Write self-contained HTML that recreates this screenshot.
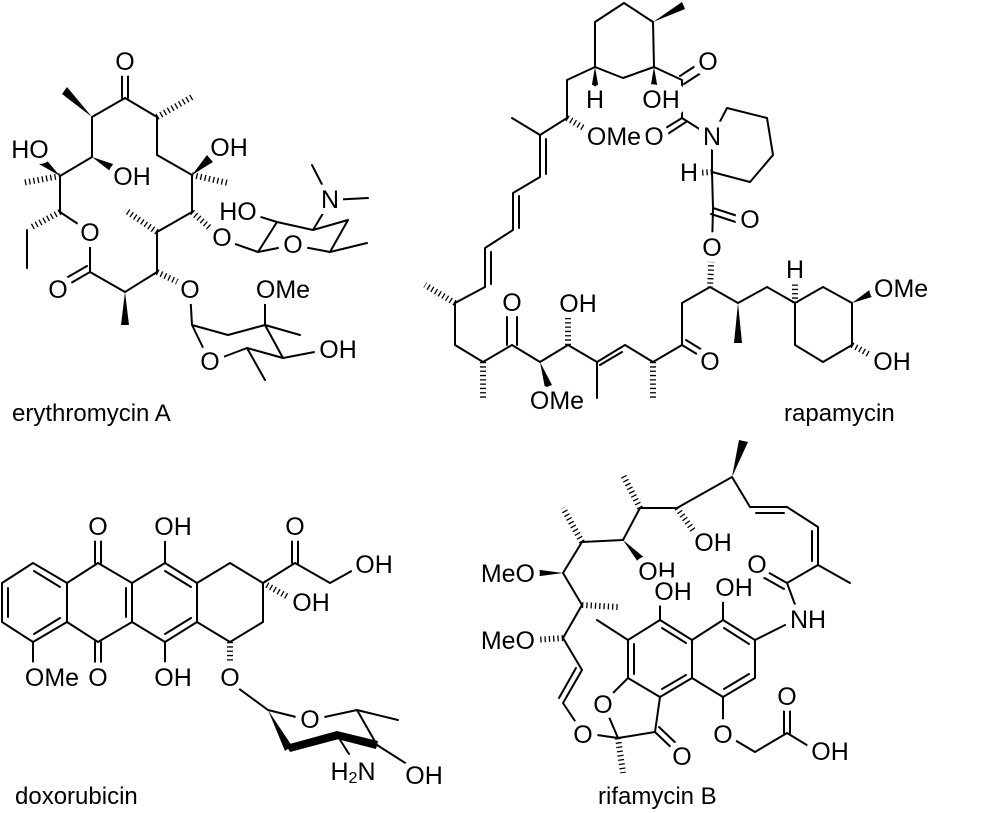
<!DOCTYPE html>
<html><head><meta charset="utf-8"><style>
html,body{margin:0;padding:0;background:#fff}
svg{display:block}
text{font-family:"Liberation Sans",Arial,sans-serif;font-size:25px;fill:#000;stroke:#fff;stroke-width:12px;paint-order:stroke;stroke-linejoin:round}
.l{text-anchor:middle;dominant-baseline:central}
.s{text-anchor:start;dominant-baseline:central}
.e{text-anchor:end;dominant-baseline:central}
.n{font-size:24px;stroke:none}
.ns{stroke:none}
.b{fill:none;stroke:#000;stroke-width:2;stroke-linejoin:round;stroke-linecap:round}
.h{fill:none;stroke:#000;stroke-width:6;stroke-dasharray:1.3 3}
.w{fill:#000}
</style></head><body>
<svg width="1000" height="813" viewBox="0 0 1000 813" xmlns="http://www.w3.org/2000/svg">
<!-- ERYTHROMYCIN -->
<path class="b" d="M125 98 L92 117 L92 157 L60 176 L60 212 L90 232 L90 272 L125 292 L157 272 L157 232 L192 212 L192 175 L157 155 L157 117 L125 98
M122 98 L122 72 M128 98 L128 72 M90 272 L64 287 M87 266 L61 281 M27 230 L27 268
M218 238 L258 252 L293 245 L330 252 L348 220 L313 230 L277 222 L258 252 M277 222 L248 213 M313 230 L328 205 M330 200 L312 165 M330 200 L368 198 M330 252 L367 243
M190 290 L192 325 L228 335 L265 325 L283 358 L247 348 L210 362 L192 325 M265 325 L265 298 M265 325 L300 335 M283 358 L325 350 M247 348 L265 380"/>
<polygon class="w" points="92,117 62,94 67,87"/>
<polygon class="w" points="92,157 113,164 110,171"/>
<polygon class="w" points="60,176 39,164 44,157"/>
<polygon class="w" points="192,175 207,155 213,162"/>
<polygon class="w" points="125,292 121,325 129,325"/>
<path class="h" d="M157 117 L192 97 M60 176 L22 183 M60 212 L30 228 M192 175 L228 183 M157 232 L125 210 M157 272 L188 287 M192 212 L218 235"/>
<text class="l" x="125" y="62">O</text>
<text class="l" x="30" y="150">HO</text>
<text class="l" x="132" y="177">OH</text>
<text class="l" x="229" y="148">OH</text>
<text class="l" x="90" y="233">O</text>
<text class="l" x="58" y="290">O</text>
<text class="l" x="222" y="238">O</text>
<text class="l" x="238" y="212">HO</text>
<text class="l" x="293" y="245">O</text>
<text class="l" x="330" y="200">N</text>
<text class="l" x="190" y="290">O</text>
<text class="l" x="283" y="290">OMe</text>
<text class="l" x="338" y="350">OH</text>
<text class="l" x="210" y="362">O</text>
<text class="n" x="12" y="421">erythromycin A</text>

<!-- RAPAMYCIN -->
<path class="b" d="M595 22 L624 3 L653 22 L654 67 L623 78 L595 67 Z
M654 67 L682 80 L682 118 L712 137 L727 108 L767 118 L773 155 L750 182 L712 172 L712 137
M684 84 L710 67 M680 76 L706 59 M682 118 L656 134 M686 122 L660 139
M712 172 L713 208 L712 248 M713 208 L750 220 M711 214 L748 226
M682 345 L710 362 M686 340 L712 356
M710 287 L682 303 L682 345 L653 362 L625 345 L597 362 L568 345 L540 362 L512 345 L483 362 L455 345 L455 303 L485 287 L485 248 L513 230 L513 193 L540 177 L540 135 L567 118 L567 80 L595 67
M540 135 L512 118 M622 352 L600 365 M507 345 L507 305 M517 345 L517 305
M491 284 L491 252 M519 228 L519 196 M546 174 L546 139
M710 287 L738 303 L767 287 L795 303 L823 287 L852 303 L852 345 L823 362 L795 345 L795 303
M597 362 L597 398"/>
<path class="h" d="M712 248 L710 287 M712 172 L697 173 M795 303 L795 282 M852 345 L874 357 M653 362 L653 398 M568 345 L568 318 M483 362 L483 398 M455 303 L425 285 M567 118 L592 133"/>
<polygon class="w" points="653,22 682,2 685,9"/>
<polygon class="w" points="654,67 650,90 658,90"/>
<polygon class="w" points="595,67 591,90 599,90"/>
<polygon class="w" points="738,303 734,343 742,343"/>
<polygon class="w" points="852,303 872,288 875,296"/>
<polygon class="w" points="540,362 545,388 552,385"/>
<text class="l" x="708" y="62">O</text>
<text class="l" x="661" y="100">OH</text>
<text class="l" x="595" y="100">H</text>
<text class="l" x="654" y="137">O</text>
<text class="l" x="712" y="137">N</text>
<text class="l" x="689" y="173">H</text>
<text class="l" x="750" y="220">O</text>
<text class="l" x="712" y="248">O</text>
<text class="l" x="710" y="362">O</text>
<text class="l" x="795" y="270">H</text>
<text class="s" x="874" y="289">OMe</text>
<text class="l" x="892" y="362">OH</text>
<text class="l" x="512" y="303">O</text>
<text class="l" x="578" y="304">OH</text>
<text class="l" x="557" y="401">OMe</text>
<text class="l" x="614" y="137">OMe</text>
<text class="n" x="784" y="421">rapamycin</text>

<!-- DOXORUBICIN -->
<path class="b" d="M2 583 L33 563 L67 583 L67 622 L33 642 L2 622 Z
M34 571 L60 587 M8 588 L8 617 M34 634 L60 618
M67 583 L98 563 L132 583 L132 622 L98 642 L67 622 M126 588 L126 617
M132 583 L165 563 L197 583 L197 622 L165 642 L132 622 M165 571 L191 587 M165 634 L191 618
M197 583 L230 563 L263 583 L263 622 L230 642 L197 622
M95 563 L95 538 M101 563 L101 538 M95 642 L95 668 M101 642 L101 668
M165 563 L165 540 M165 642 L165 667 M33 642 L33 666
M263 583 L295 563 L330 583 L357 568 M292 563 L292 538 M298 563 L298 538
M238 688 L268 710 L300 718 M320 718 L357 710 L398 720 M357 710 L377 745 L410 766 M337 735 L349 754"/>
<path class="h" d="M263 583 L290 598 M230 642 L230 667"/>
<polygon class="w" points="268,710 285,751 292,746"/>
<polygon class="w" points="286,745 337,731 339,739 290,752"/>
<polygon class="w" points="337,731 378,741 376,749 337,739"/>
<text class="l" x="98" y="527">O</text>
<text class="l" x="173" y="527">OH</text>
<text class="l" x="295" y="527">O</text>
<text class="l" x="374" y="565">OH</text>
<text class="l" x="311" y="603">OH</text>
<text class="l" x="52" y="678">OMe</text>
<text class="l" x="98" y="678">O</text>
<text class="l" x="173" y="678">OH</text>
<text class="l" x="230" y="678">O</text>
<text class="l" x="310" y="720">O</text>
<text class="l" x="424" y="776">OH</text>
<text class="l ns" x="353" y="772">H<tspan font-size="16" dy="6">2</tspan><tspan dy="-6">N</tspan></text>
<text class="n" x="15" y="804">doxorubicin</text>

<!-- RIFAMYCIN B -->
<path class="b" d="M732 477 L750 507 L787 507 L818 527 L818 565 L787 583 L797 610 M818 565 L850 583
M756 513 L784 513 M812 531 L812 561 M787 583 L764 570 M784 589 L761 576
M732 477 L677 508 L640 508 L623 540 L582 542 L563 573 L582 605 L563 638 L582 670 L563 703 L583 733 L618 738 L655 732 L660 697
M576 668 L559 698 M618 738 L603 703 L628 678 M655 732 L676 752 M659 727 L680 747
M628 640 L660 620 L692 640 L692 678 L660 697 L628 678 Z M634 644 L634 674 M662 628 L686 643 M662 689 L686 675
M692 640 L723 620 L755 640 L755 678 L723 697 L692 678 M724 628 L749 644 M724 689 L749 674
M628 640 L597 620 M660 620 L660 603 M723 620 L723 602 M755 640 L785 625
M723 697 L723 733 L755 752 L787 733 L815 750 M784 733 L784 708 M790 733 L790 708"/>
<path class="h" d="M677 508 L695 533 M640 508 L623 475 M582 542 L563 508 M582 605 L618 607 M563 638 L535 640 M618 738 L623 773"/>
<polygon class="w" points="732,477 739,440 748,442"/>
<polygon class="w" points="623,540 640,565 646,559"/>
<polygon class="w" points="563,573 533,569 533,577"/>
<text class="l" x="757" y="565">O</text>
<text class="l" x="808" y="620">NH</text>
<text class="l" x="713" y="543">OH</text>
<text class="l" x="657" y="572">OH</text>
<text class="e" x="535" y="574">MeO</text>
<text class="e" x="535" y="641">MeO</text>
<text class="l" x="673" y="592">OH</text>
<text class="l" x="734" y="588">OH</text>
<text class="l" x="603" y="705">O</text>
<text class="l" x="583" y="735">O</text>
<text class="l" x="682" y="757">O</text>
<text class="l" x="723" y="735">O</text>
<text class="l" x="787" y="697">O</text>
<text class="l" x="830" y="752">OH</text>
<text class="n" x="598" y="804">rifamycin B</text>
</svg>
</body></html>
